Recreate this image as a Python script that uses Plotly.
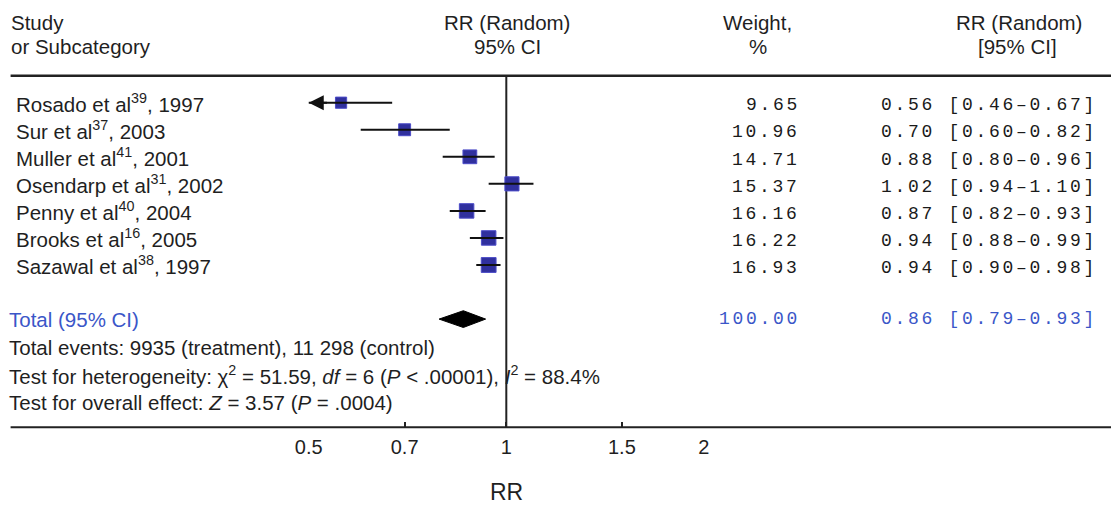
import math
import plotly.graph_objects as go

# ---------------- data ----------------
studies = ["Rosado et al", "Sur et al", "Muller et al", "Osendarp et al",
           "Penny et al", "Brooks et al", "Sazawal et al"]
refs = ["39", "37", "41", "31", "40", "16", "38"]
years = ["1997", "2003", "2001", "2002", "2004", "2005", "1997"]
rr = [0.56, 0.70, 0.88, 1.02, 0.87, 0.94, 0.94]
ci_lo = [0.46, 0.60, 0.80, 0.94, 0.82, 0.88, 0.90]
ci_hi = [0.67, 0.82, 0.96, 1.10, 0.93, 0.99, 0.98]
weights = [9.65, 10.96, 14.71, 15.37, 16.16, 16.22, 16.93]

total_rr = 0.86
total_lo = 0.79
total_hi = 0.93
total_weight = 100.00

tick_vals = [0.5, 0.7, 1, 1.5, 2]
tick_text = ["0.5", "0.7", "1", "1.5", "2"]
x_min, x_max = 0.5, 2.0

total_events_text = "Total events: 9935 (treatment), 11 298 (control)"
hetero_text = ("Test for heterogeneity: χ<sup>2</sup> = 51.59, <i>df</i> = 6 "
               "(<i>P</i> &lt; .00001), <i>I</i><sup>2</sup> = 88.4%")
overall_text = "Test for overall effect: <i>Z</i> = 3.57 (<i>P</i> = .0004)"

# ---------------- layout constants ----------------
W, H = 1111, 508
ROW0_PX, ROW_PX = 102.7, 27.05          # pixel centre of first row, row pitch
def px_to_row(p):
    return (p - ROW0_PX) / ROW_PX

# horizontal placement helper (screen pixel -> paper fraction)
OFF, SCL = 13.4, 0.982
def X(p):
    return ((p - OFF) / SCL) / W

SANS = "Liberation Sans, Arial, sans-serif"
MONO = "Liberation Mono, Courier New, monospace"
TXT = "#1f1f1f"
NUM = "#1a1a1a"
BLUE = "#3a56c8"
MARK_FILL = "#30309e"
MARK_EDGE = "#4c4cc8"
SANS_SIZE = 20.5
MONO_SIZE = 18

n = len(studies)
rows = list(range(n))
row_total = n + 1
row_events = n + 2.05
row_hetero = n + 3.05
row_overall = n + 4.1
row_axis = n + 5
row_rule = -1
row_head1 = -2.98
row_head2 = -2.06

fig = go.Figure()

# vertical line of no effect
fig.add_trace(go.Scatter(x=[1, 1], y=[row_rule, row_axis], mode="lines",
                         line=dict(color="#222222", width=2),
                         hoverinfo="skip", showlegend=False))

# study squares
fig.add_trace(go.Scatter(
    x=rr, y=rows, mode="markers",
    marker=dict(symbol="square", size=[3.6 * math.sqrt(w) for w in weights],
                color=MARK_FILL, opacity=1, line=dict(color=MARK_EDGE, width=1)),
    hoverinfo="skip", showlegend=False))

# CI lines (drawn over the squares)
cx, cy = [], []
for i in range(n):
    cx += [ci_lo[i], ci_hi[i], None]
    cy += [rows[i], rows[i], None]
fig.add_trace(go.Scatter(x=cx, y=cy, mode="lines",
                         line=dict(color="#111111", width=2),
                         hoverinfo="skip", showlegend=False))

# pooled diamond
half_h = 0.31
fig.add_trace(go.Scatter(
    x=[total_lo, total_rr, total_hi, total_rr, total_lo],
    y=[row_total, row_total - half_h, row_total, row_total + half_h, row_total],
    mode="lines", fill="toself", fillcolor="#000000",
    line=dict(color="#000000", width=1),
    hoverinfo="skip", showlegend=False))

ann = []

# arrows for CIs that run off the axis
for i in range(n):
    if ci_lo[i] < x_min:
        ann.append(dict(x=math.log10(x_min), y=rows[i], xref="x", yref="y",
                        ax=math.log10(x_min) + 0.03, ay=rows[i], axref="x", ayref="y",
                        showarrow=True, arrowhead=2, arrowsize=1.5, arrowwidth=2,
                        arrowcolor="#111111", text=""))

def txt(x, y, s, anchor="left", size=SANS_SIZE, color=TXT, family=SANS, yanchor="middle"):
    ann.append(dict(x=X(x), y=y, xref="paper", yref="y", text=s,
                    showarrow=False, xanchor=anchor, yanchor=yanchor,
                    font=dict(family=family, size=size, color=color)))

# headers
txt(8, row_head1, "Study")
txt(8, row_head2, "or Subcategory")
txt(506, row_head1, "RR (Random)", "center")
txt(507, row_head2, "95% CI", "center")
txt(757, row_head1, "Weight,", "center")
txt(757, row_head2, "%", "center")
txt(1018, row_head1, "RR (Random)", "center")
txt(1017, row_head2, "[95% CI]", "center")

def mono(s):
    return ('<span style="letter-spacing:2.7px;font-size:%dpx">' % MONO_SIZE) + s + '</span>'

# study rows
for i in range(n):
    txt(13, rows[i], f"{studies[i]}<sup>{refs[i]}</sup>, {years[i]}")
    txt(801, rows[i] + 0.1, mono(f"{weights[i]:.2f}"), "right", MONO_SIZE, NUM, MONO)
    txt(878, rows[i] + 0.1,
        mono(f"{rr[i]:.2f} [{ci_lo[i]:.2f}–{ci_hi[i]:.2f}]"), "left", MONO_SIZE, NUM, MONO)

# totals
txt(6, row_total, "Total (95% CI)", color=BLUE)
txt(801, row_total, mono(f"{total_weight:.2f}"), "right", MONO_SIZE, BLUE, MONO)
txt(878, row_total, mono(f"{total_rr:.2f} [{total_lo:.2f}–{total_hi:.2f}]"),
    "left", MONO_SIZE, BLUE, MONO)
txt(6, row_events, total_events_text)
txt(6, row_hetero, hetero_text)
txt(6, row_overall, overall_text)

# axis title
ann.append(dict(x=0, y=px_to_row(507), xref="x", yref="y", text="RR",
                showarrow=False, xanchor="center", yanchor="bottom",
                font=dict(family=SANS, size=23, color=TXT)))

shapes = [
    dict(type="line", xref="paper", yref="y", x0=X(10), x1=X(1111), y0=row_rule, y1=row_rule,
         line=dict(color="#222222", width=2.5)),
    dict(type="line", xref="paper", yref="y", x0=X(10), x1=X(1111), y0=row_axis, y1=row_axis,
         line=dict(color="#222222", width=2)),
]

x_one_px = 505.7
px_per_ln = 285.0
dom0 = X(x_one_px + px_per_ln * math.log(x_min))
dom1 = X(x_one_px + px_per_ln * math.log(x_max))
axis_pos = 1 - (ROW0_PX + ROW_PX * row_axis) / H

fig.update_layout(
    width=W, height=H, margin=dict(l=0, r=0, t=0, b=0),
    paper_bgcolor="white", plot_bgcolor="white",
    xaxis=dict(type="log", range=[math.log10(x_min), math.log10(x_max)],
               domain=[dom0, dom1], anchor="free", position=axis_pos,
               tickvals=tick_vals, ticktext=tick_text, ticks="inside",
               ticklen=5, tickwidth=1.5, tickcolor="#222222", ticklabelstandoff=6,
               tickfont=dict(family=SANS, size=20, color=TXT),
               showgrid=False, zeroline=False, showline=False),
    yaxis=dict(range=[px_to_row(H), px_to_row(0)], domain=[0, 1], visible=False,
               showgrid=False, zeroline=False),
    annotations=ann, shapes=shapes, showlegend=False,
)

fig.write_html("out.html")
